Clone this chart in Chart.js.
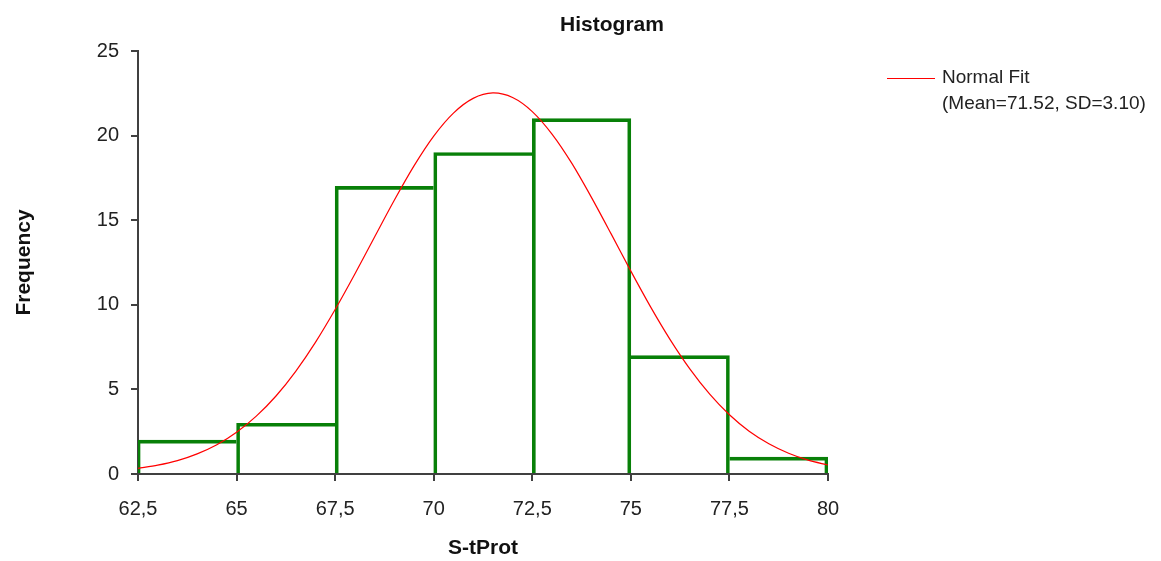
<!DOCTYPE html>
<html>
<head>
<meta charset="utf-8">
<script src="https://cdn.jsdelivr.net/npm/chart.js@4.4.1/dist/chart.umd.min.js"></script>
<style>
html,body{margin:0;padding:0;background:#fff;}
canvas{display:block;}
</style>
</head>
<body>
<canvas id="c" width="1161" height="561"></canvas>
<script>
// ---- data ----
const binMids = [63.75, 66.25, 68.75, 71.25, 73.75, 76.25, 78.75];
const counts = [2, 3, 17, 19, 21, 7, 1];
const xTickValues = [62.5, 65, 67.5, 70, 72.5, 75, 77.5, 80];
const xTickLabels = ['62,5', '65', '67,5', '70', '72,5', '75', '77,5', '80'];
const yTickLabels = ['0', '5', '10', '15', '20', '25'];
const curveX = [62.5, 63, 63.5, 64, 64.5, 65, 65.5, 66, 66.5, 67, 67.5, 68, 68.5, 69, 69.5, 70, 70.5, 71, 71.5,
  72, 72.5, 73, 73.5, 74, 74.5, 75, 75.5, 76, 76.5, 77, 77.5, 78, 78.5, 79, 79.5, 80];
const curveY = [0.33, 0.52, 0.79, 1.19, 1.73, 2.47, 3.42, 4.61, 6.07, 7.78, 9.72, 11.82, 14.01, 16.18, 18.21, 19.97, 21.33, 22.20, 22.52,
  22.25, 21.42, 20.09, 18.37, 16.35, 14.19, 11.99, 9.88, 7.93, 6.20, 4.72, 3.50, 2.53, 1.79, 1.23, 0.82, 0.53];
const titleText = 'Histogram';
const xTitle = 'S-tProt';
const yTitle = 'Frequency';
const legendLines = ['Normal Fit', '(Mean=71.52, SD=3.10)'];

const FONT = '"Liberation Sans", Arial, sans-serif';
const AXIS = '#404040';
const GREEN = '#088008';

const overlay = {
  id: 'overlay',
  afterDraw(chart) {
    const ctx = chart.ctx;
    ctx.save();
    ctx.fillStyle = '#111';
    ctx.textBaseline = 'middle';
    ctx.textAlign = 'center';
    ctx.font = 'bold 21px ' + FONT;
    ctx.fillText(titleText, 612, 25);
    // legend
    ctx.strokeStyle = '#ff0000';
    ctx.lineWidth = 1.2;
    ctx.beginPath();
    ctx.moveTo(887, 78.5);
    ctx.lineTo(935, 78.5);
    ctx.stroke();
    ctx.textAlign = 'left';
    ctx.font = '19px ' + FONT;
    ctx.fillStyle = '#222';
    ctx.fillText(legendLines[0], 942, 78);
    ctx.fillText(legendLines[1], 942, 104);
    ctx.restore();
  }
};

new Chart(document.getElementById('c'), {
  type: 'bar',
  data: {
    datasets: [
      {
        type: 'line',
        label: 'Normal Fit',
        data: curveX.map((x, i) => ({x: x, y: curveY[i]})),
        borderColor: '#ff0000',
        borderWidth: 1.2,
        pointRadius: 0,
        tension: 0.3,
        fill: false,
        order: 0
      },
      {
        type: 'bar',
        label: 'Frequency',
        data: binMids.map((x, i) => ({x: x, y: counts[i]})),
        backgroundColor: 'rgba(0,0,0,0)',
        borderColor: GREEN,
        borderSkipped: false,
        borderWidth: (c) => {
          const i = c.dataIndex, n = counts.length;
          return {
            top: 3,
            bottom: 0,
            left: i === 0 ? 2 : (counts[i - 1] <= counts[i] ? 3 : 0),
            right: (i === n - 1 || counts[i + 1] < counts[i]) ? 3 : 0
          };
        },
        barPercentage: 1,
        categoryPercentage: 1,
        order: 1
      }
    ]
  },
  options: {
    responsive: false,
    animation: false,
    devicePixelRatio: 1,
    layout: {padding: {left: 0, right: 1161 - 828, top: 51, bottom: 0}},
    plugins: {legend: {display: false}, tooltip: {enabled: false}, title: {display: false}},
    scales: {
      x: {
        type: 'linear',
        min: 62.5,
        max: 80,
        offset: false,
        afterFit: (s) => { s.height = 561 - 474; },
        afterBuildTicks: (s) => { s.ticks = xTickValues.map(v => ({value: v})); },
        ticks: {
          autoSkip: false,
          maxRotation: 0,
          padding: 16,
          color: '#222',
          font: {family: FONT, size: 20},
          callback: (v, i) => xTickLabels[i]
        },
        grid: {drawOnChartArea: false, offset: false, tickLength: 7, color: AXIS, lineWidth: 2},
        border: {color: AXIS, width: 2},
        title: {display: true, text: xTitle, color: '#111', font: {family: FONT, size: 21, weight: 'bold'}, padding: {top: 0, bottom: 0}}
      },
      y: {
        type: 'linear',
        min: 0,
        max: 25,
        afterFit: (s) => { s.width = 138; },
        ticks: {
          stepSize: 5,
          padding: 12,
          color: '#222',
          font: {family: FONT, size: 20},
          callback: (v) => yTickLabels[Math.round(v / 5)]
        },
        grid: {drawOnChartArea: false, tickLength: 7, color: AXIS, lineWidth: 2},
        border: {color: AXIS, width: 2},
        title: {display: true, text: yTitle, color: '#111', font: {family: FONT, size: 21, weight: 'bold'}, padding: {top: 12, bottom: 0}}
      }
    }
  },
  plugins: [overlay]
});
</script>
</body>
</html>
